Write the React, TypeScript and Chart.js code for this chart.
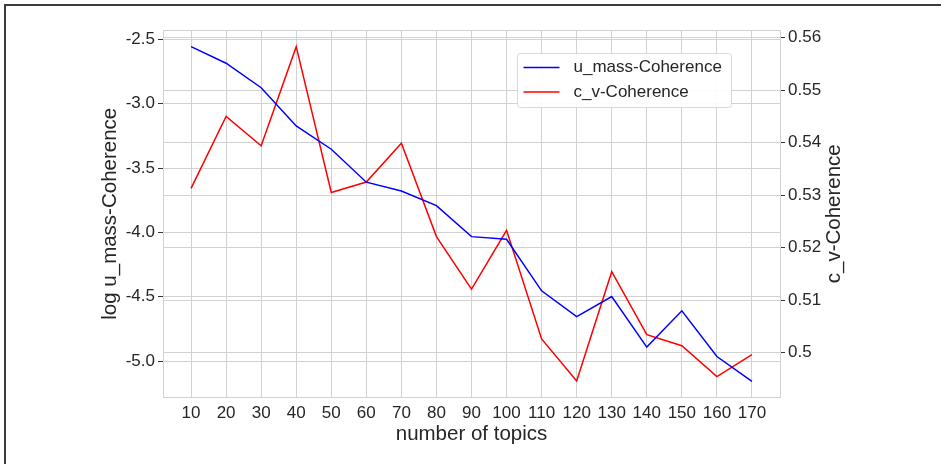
import React, { useEffect, useRef } from 'react';
import { Chart, registerables } from 'chart.js';

Chart.register(...registerables);

// ---- data ----
const topics = [10, 20, 30, 40, 50, 60, 70, 80, 90, 100, 110, 120, 130, 140, 150, 160, 170];
const uMassCoherence = [-2.557, -2.686, -2.876, -3.173, -3.354, -3.61, -3.678, -3.792, -4.033, -4.053, -4.454, -4.654, -4.498, -4.891, -4.609, -4.964, -5.158];
const cvCoherence = [0.5313, 0.545, 0.5394, 0.5583, 0.5305, 0.5325, 0.5399, 0.5221, 0.5121, 0.5233, 0.5026, 0.4946, 0.5154, 0.5034, 0.5013, 0.4954, 0.4996];
const xTicks = [10, 20, 30, 40, 50, 60, 70, 80, 90, 100, 110, 120, 130, 140, 150, 160, 170];
const leftTicks = [-2.5, -3.0, -3.5, -4.0, -4.5, -5.0];
const rightTicks = [0.56, 0.55, 0.54, 0.53, 0.52, 0.51, 0.5];
const seriesLabels = ['u_mass-Coherence', 'c_v-Coherence'];
const xTitle = 'number of topics';
const leftTitle = 'log u_mass-Coherence';
const rightTitle = 'c_v-Coherence';

const FONT = "'Liberation Sans', Arial, Helvetica, sans-serif";
const TEXT = '#262626';
const GRID = '#d2d2d2';

const framePlugin = {
  id: 'frameAndExtras',
  beforeDraw(chart: any) {
    const { ctx, width, height } = chart;
    ctx.save();
    ctx.fillStyle = '#ffffff';
    ctx.fillRect(0, 0, width, height);
    ctx.strokeStyle = '#3c3c3c';
    ctx.lineWidth = 2;
    ctx.beginPath();
    ctx.moveTo(5, height + 2);
    ctx.lineTo(5, 5);
    ctx.lineTo(width + 2, 5);
    ctx.stroke();
    ctx.restore();
  },
  beforeDatasetsDraw(chart: any) {
    const { ctx, chartArea } = chart;
    ctx.save();
    ctx.strokeStyle = GRID;
    ctx.lineWidth = 1;
    ctx.beginPath();
    const y = Math.round(chartArea.top) + 0.5;
    ctx.moveTo(chartArea.left, y);
    ctx.lineTo(chartArea.right, y);
    ctx.stroke();
    ctx.restore();
  },
  afterDraw(chart: any) {
    const { ctx, chartArea } = chart;
    ctx.save();
    // right axis title, reading bottom-to-top
    ctx.fillStyle = TEXT;
    ctx.font = `20.5px ${FONT}`;
    ctx.textAlign = 'center';
    ctx.textBaseline = 'middle';
    ctx.translate(834.5, (chartArea.top + chartArea.bottom) / 2);
    ctx.rotate(-Math.PI / 2);
    ctx.fillText(rightTitle, 0, 0);
    ctx.restore();

    // legend box
    ctx.save();
    const bx = chartArea.right - 262.5;
    const by = chartArea.top + 23.5;
    const bw = 214;
    const bh = 54;
    const r = 3;
    ctx.beginPath();
    ctx.moveTo(bx + r, by);
    ctx.lineTo(bx + bw - r, by);
    ctx.arcTo(bx + bw, by, bx + bw, by + r, r);
    ctx.lineTo(bx + bw, by + bh - r);
    ctx.arcTo(bx + bw, by + bh, bx + bw - r, by + bh, r);
    ctx.lineTo(bx + r, by + bh);
    ctx.arcTo(bx, by + bh, bx, by + bh - r, r);
    ctx.lineTo(bx, by + r);
    ctx.arcTo(bx, by, bx + r, by, r);
    ctx.closePath();
    ctx.fillStyle = 'rgba(255,255,255,0.9)';
    ctx.fill();
    ctx.strokeStyle = '#dadada';
    ctx.lineWidth = 1;
    ctx.stroke();

    ctx.font = `17px ${FONT}`;
    ctx.textAlign = 'left';
    ctx.textBaseline = 'middle';
    chart.data.datasets.forEach((ds: any, i: number) => {
      const ly = by + 14 + i * 24.5;
      ctx.strokeStyle = ds.borderColor;
      ctx.lineWidth = 1.5;
      ctx.beginPath();
      ctx.moveTo(bx + 6, ly);
      ctx.lineTo(bx + 42, ly);
      ctx.stroke();
      ctx.fillStyle = TEXT;
      ctx.fillText(ds.label, bx + 56, ly);
    });
    ctx.restore();
  },
};

export default function App() {
  const canvasRef = useRef<HTMLCanvasElement | null>(null);

  useEffect(() => {
    const canvas = canvasRef.current;
    if (!canvas) return;
    const chart = new Chart(canvas, {
      type: 'line',
      data: {
        datasets: [
          {
            label: seriesLabels[0],
            data: topics.map((t, i) => ({ x: t, y: uMassCoherence[i] })),
            borderColor: '#0000ff',
            backgroundColor: '#0000ff',
            borderWidth: 1.5,
            pointRadius: 0,
            tension: 0,
            fill: false,
            yAxisID: 'y',
          },
          {
            label: seriesLabels[1],
            data: topics.map((t, i) => ({ x: t, y: cvCoherence[i] })),
            borderColor: '#ff0000',
            backgroundColor: '#ff0000',
            borderWidth: 1.5,
            pointRadius: 0,
            tension: 0,
            fill: false,
            yAxisID: 'y2',
          },
        ],
      },
      options: {
        responsive: false,
        animation: false,
        devicePixelRatio: 1,
        layout: { padding: { top: 30, left: 0, right: 0, bottom: 0 } },
        plugins: {
          legend: { display: false },
          tooltip: { enabled: false },
        },
        scales: {
          x: {
            type: 'linear',
            position: 'bottom',
            min: 2,
            max: 178,
            afterBuildTicks: (s: any) => {
              s.ticks = xTicks.map((v) => ({ value: v }));
            },
            afterFit: (s: any) => {
              s.height = 66.5;
            },
            ticks: {
              autoSkip: false,
              maxRotation: 0,
              padding: 6,
              color: TEXT,
              font: { family: FONT, size: 17 },
              callback: (v: any) => String(v),
            },
            grid: { color: GRID, lineWidth: 1, drawTicks: false },
            border: { color: GRID, width: 1 },
            title: {
              display: true,
              text: xTitle,
              color: TEXT,
              font: { family: FONT, size: 20.5 },
              padding: { top: 0, bottom: 17.4 },
            },
          },
          y: {
            type: 'linear',
            position: 'left',
            min: -5.2826,
            max: -2.4278,
            afterBuildTicks: (s: any) => {
              s.ticks = leftTicks.map((v) => ({ value: v }));
            },
            afterFit: (s: any) => {
              s.width = 163;
            },
            ticks: {
              padding: 3,
              color: TEXT,
              font: { family: FONT, size: 17 },
              callback: (v: any) => Number(v).toFixed(1),
            },
            grid: { color: GRID, lineWidth: 1, drawTicks: true, tickLength: 5, tickColor: '#333333' },
            border: { color: GRID, width: 1 },
            title: {
              display: true,
              text: leftTitle,
              color: TEXT,
              font: { family: FONT, size: 20.5 },
              padding: { top: 97.7, bottom: 0 },
            },
          },
          y2: {
            type: 'linear',
            position: 'right',
            min: 0.49143,
            max: 0.56147,
            afterBuildTicks: (s: any) => {
              s.ticks = rightTicks.map((v) => ({ value: v }));
            },
            afterFit: (s: any) => {
              s.width = 161;
            },
            ticks: {
              padding: 3,
              color: TEXT,
              font: { family: FONT, size: 17 },
              callback: (v: any) => String(Number(Number(v).toFixed(2))),
            },
            grid: { color: GRID, lineWidth: 1, drawTicks: true, tickLength: 5, tickColor: '#333333', drawOnChartArea: true },
            border: { color: GRID, width: 1 },
          },
        },
      },
      plugins: [framePlugin],
    } as any);
    return () => chart.destroy();
  }, []);

  return (
    <div style={{ position: 'fixed', left: 0, top: 0, width: 941, height: 464, overflow: 'hidden', background: '#fff' }}>
      <canvas ref={canvasRef} width={941} height={464} style={{ display: 'block', width: 941, height: 464 }} />
    </div>
  );
}
